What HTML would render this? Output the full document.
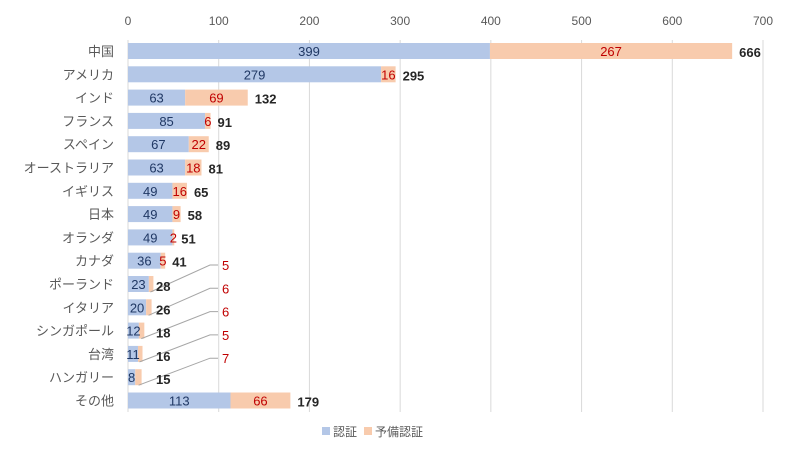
<!DOCTYPE html>
<html><head><meta charset="utf-8"><style>
body{margin:0;background:#fff;}
svg{display:block;font-family:"Liberation Sans","Noto Sans CJK JP",sans-serif;}
</style></head><body>
<svg id="c" width="800" height="452"></svg>
<script>
const categories=["中国","アメリカ","インド","フランス","スペイン","オーストラリア","イギリス","日本","オランダ","カナダ","ポーランド","イタリア","シンガポール","台湾","ハンガリー","その他"];
const certified=[399,279,63,85,67,63,49,49,49,36,23,20,12,11,8,113];
const preliminary=[267,16,69,6,22,18,16,9,2,5,5,6,6,5,7,66];
const ticks=[0,100,200,300,400,500,600,700];
const NS="http://www.w3.org/2000/svg";
const svg=document.getElementById("c");
const x0=128,sc=(763-128)/700;
const X=v=>x0+v*sc;
const Y=i=>51+i*23.3;
function el(t,a,txt){const e=document.createElementNS(NS,t);for(const k in a)e.setAttribute(k,a[k]);if(txt!==undefined)e.textContent=txt;svg.appendChild(e);return e;}
ticks.forEach(t=>{
 const g=el("line",{x1:X(t),x2:X(t),y1:40,y2:412,stroke:"#d9d9d9","stroke-width":1});
 
 
 const l=el("text",{x:X(t),y:25,"text-anchor":"middle","font-size":12,fill:"#595959"},t);
 
 
});
categories.forEach((c,i)=>{
 const y=Y(i),a=certified[i],b=preliminary[i],tot=a+b;
 const cl=el("text",{x:114,y:y+5,"text-anchor":"end","font-size":13,fill:"#595959"},c);
 
 
 const r1=el("rect",{x:X(0),y:y-8,width:X(a)-X(0),height:16,fill:"#b4c7e7"});
 
 
 const r2=el("rect",{x:X(a),y:y-8,width:X(tot)-X(a),height:16,fill:"#f8cbad"});
 
 
 const small=a<30;
 const l1=el("text",{x:(X(0)+X(a))/2,y:y+5,"text-anchor":"middle","font-size":13,fill:"#203864"},a);
 
 
 let tx;
 if(small){
  const ly=y-19;
  const ln=el("polyline",{points:`${X(tot)-3},${y+8} ${X(0)+82},${ly} ${X(0)+90},${ly}`,fill:"none",stroke:"#a6a6a6","stroke-width":1});
  
  
  const l2=el("text",{x:X(0)+94,y:ly+5,"font-size":13,fill:"#c00000"},b);
  
  
  tx=X(0)+28;
 } else {
  const l2=el("text",{x:(X(a)+X(tot))/2,y:y+5,"text-anchor":"middle","font-size":13,fill:"#c00000"},b);
  
  
  tx=X(tot)+7;
 }
 const lt=el("text",{x:tx,y:y+(small?7:6),"font-size":13,"font-weight":"bold",fill:"#262626"},tot);
 
 
});
const s1=el("rect",{x:322,y:427,width:8,height:8,fill:"#b4c7e7"});


const t1=el("text",{x:333,y:436,"font-size":12,fill:"#595959"},"認証");


const s2=el("rect",{x:364,y:427,width:8,height:8,fill:"#f8cbad"});


const t2=el("text",{x:375,y:436,"font-size":12,fill:"#595959"},"予備認証");


</script>
</body></html>
